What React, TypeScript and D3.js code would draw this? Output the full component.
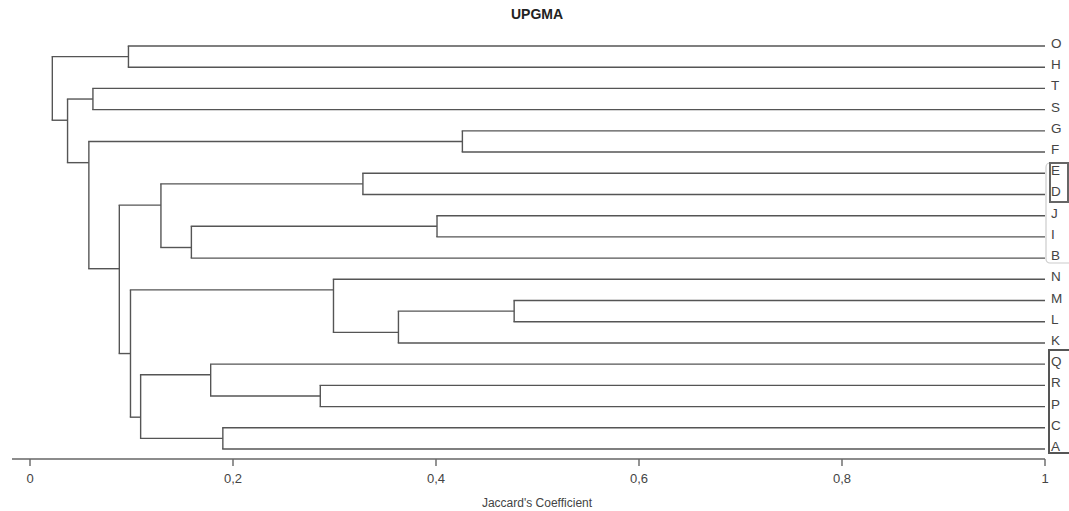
import React from "react";
import * as d3 from "d3";

const leafLabels = ["O","H","T","S","G","F","E","D","J","I","B","N","M","L","K","Q","R","P","C","A"];

// merges: [id, left, right, height (Jaccard's coefficient)]
const mergeIds = ["m0","m1","m2","m3","m4","m5","m6","m7","m8","m9","m10","m11","m12","m13","m14","m15","m16","m17","m18"];
const mergeLeft = ["O","T","G","E","J","m4","m3","M","m7","N","R","Q","C","m11","m9","m6","m2","m1","m0"];
const mergeRight = ["H","S","F","D","I","B","m5","L","K","m8","P","m10","A","m12","m13","m14","m15","m16","m17"];
const mergeHeights = [0.097,0.062,0.426,0.328,0.401,0.159,0.129,0.477,0.363,0.299,0.286,0.178,0.19,0.109,0.099,0.088,0.058,0.037,0.022];

const tickValues = [0, 0.2, 0.4, 0.6, 0.8, 1];
const tickLabels = ["0", "0,2", "0,4", "0,6", "0,8", "1"];

const W = 1069, H = 511;

export default function App() {
  const x = d3.scaleLinear().domain([0, 1]).range([30, 1045]);
  const y = d3.scalePoint<string>().domain(leafLabels).range([46, 449]);

  // leaf span per node
  const first: Record<string, string> = {};
  const last: Record<string, string> = {};
  leafLabels.forEach((l) => { first[l] = l; last[l] = l; });
  const heightOf: Record<string, number> = {};
  leafLabels.forEach((l) => { heightOf[l] = 1; });
  const stemY: Record<string, number> = {};
  leafLabels.forEach((l) => { stemY[l] = y(l)!; });
  mergeIds.forEach((id, i) => {
    const L = mergeLeft[i], R = mergeRight[i];
    first[id] = first[L];
    last[id] = last[R];
    heightOf[id] = mergeHeights[i];
    stemY[id] = (y(last[L])! + y(first[R])!) / 2;
  });

  const lines: JSX.Element[] = [];
  const stroke = "#555";
  const sw = 1.4;
  mergeIds.forEach((id, i) => {
    const L = mergeLeft[i], R = mergeRight[i];
    const xn = x(heightOf[id]);
    lines.push(<line key={id + "v"} x1={xn} x2={xn} y1={stemY[L]} y2={stemY[R]} stroke={stroke} strokeWidth={sw} />);
    [L, R].forEach((c) => {
      lines.push(<line key={id + c} x1={xn - sw / 2} x2={x(heightOf[c])} y1={stemY[c]} y2={stemY[c]} stroke={stroke} strokeWidth={sw} />);
    });
  });

  const font = "'Liberation Sans', Arial, sans-serif";
  const axisY = 459;

  return (
    <div style={{ position: "absolute", left: 0, top: 0 }}>
      <svg width={W} height={H} style={{ display: "block", background: "#fff" }}>
        <text x={537} y={19} textAnchor="middle" fontFamily={font} fontWeight="bold" fontSize={14} fill="#222">UPGMA</text>
        {lines}
        {leafLabels.map((l) => (
          <text key={l} x={1051} y={y(l)! - 2.5} dominantBaseline="central" fontFamily={font} fontSize={13.5} fill="#444">{l}</text>
        ))}
        {/* highlight boxes */}
        <rect x={1046} y={163} width={30} height={100} rx={4} fill="none" stroke="#ccc" strokeWidth={1.2} />
        <rect x={1050} y={163} width={18} height={39} fill="none" stroke="#666" strokeWidth={2} />
        <rect x={1049} y={350} width={22} height={103} fill="none" stroke="#555" strokeWidth={2} />
        {/* axis */}
        <line x1={12} x2={x(1)} y1={axisY} y2={axisY} stroke="#666" strokeWidth={1.4} />
        {tickValues.map((v, i) => (
          <g key={v}>
            <line x1={x(v)} x2={x(v)} y1={axisY} y2={axisY + 7} stroke="#666" strokeWidth={1.4} />
            <text x={x(v)} y={478} textAnchor="middle" dominantBaseline="central" fontFamily={font} fontSize={13} fill="#444">{tickLabels[i]}</text>
          </g>
        ))}
        <text x={537} y={503} textAnchor="middle" dominantBaseline="central" fontFamily={font} fontSize={12} fill="#444">Jaccard's Coefficient</text>
      </svg>
    </div>
  );
}
